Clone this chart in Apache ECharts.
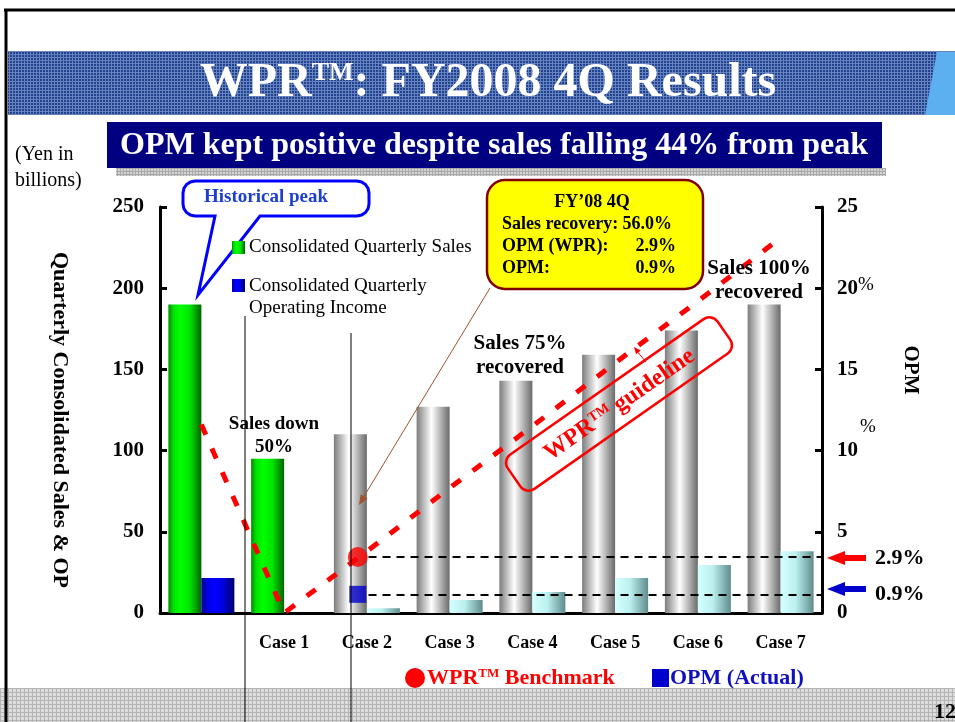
<!DOCTYPE html>
<html>
<head>
<meta charset="utf-8">
<script src="https://cdn.jsdelivr.net/npm/echarts/dist/echarts.min.js"></script>
<style>
  html, body { margin: 0; padding: 0; background: #fff; }
  #chart { width: 955px; height: 722px; }
</style>
</head>
<body>
<div id="chart"></div>
<script>
// data
const categories = ['', 'Case 1', 'Case 2', 'Case 3', 'Case 4', 'Case 5', 'Case 6', 'Case 7']
const salesValues = [190, 95, 110, 127, 143, 159, 174, 190]
const opValues = [21.5, '-', 3, 8, 13, 21.5, 29.5, 38]
const guidelineValues = [11.6, 0, 3.8, 7.7, 11.5, 15.4, 19.2, 23.1]
const benchmarkPoint = [2.39, 3.45]
const actualPoint = [2.39, 1.15]
const leftAxis = { min: 0, max: 250, interval: 50 }
const rightAxis = { min: 0, max: 25, interval: 5 }

const SERIF = '"Liberation Serif", "DejaVu Serif", serif'
const f = (size, bold) => (bold ? 'bold ' : '') + size + 'px ' + SERIF
const ts = (size, bold, color) => ({ fontFamily: SERIF, fontSize: size, fontWeight: bold ? 'bold' : 'normal', color: color || '#000' })

// small tiled texture for the slide bands
function makePattern(bg, line, size) {
  const c = document.createElement('canvas')
  c.width = size
  c.height = size
  const ctx = c.getContext('2d')
  ctx.fillStyle = bg
  ctx.fillRect(0, 0, size, size)
  ctx.fillStyle = line
  ctx.fillRect(0, 0, size, 1)
  ctx.fillRect(0, 0, 1, size)
  return { image: c, repeat: 'repeat' }
}

function hGrad(stops) {
  return {
    type: 'linear', x: 0, y: 0, x2: 1, y2: 0,
    colorStops: stops.map(s => ({ offset: s[0], color: s[1] }))
  }
}
const greenGrad = hGrad([[0, '#008a00'], [0.15, '#00e000'], [0.35, '#00ff00'], [0.65, '#00e400'], [1, '#006400']])
const blueGrad = hGrad([[0, '#000099'], [0.3, '#0000ff'], [0.6, '#0000ee'], [1, '#000070']])
const grayGrad = hGrad([[0, '#7c7c7c'], [0.45, '#ffffff'], [1, '#6a6a6a']])
const tealGrad = hGrad([[0, '#d4ffff'], [0.45, '#bdf0f0'], [1, '#5f8c8c']])

function arcPts(cx, cy, r, a0, a1, n) {
  const pts = []
  for (let i = 0; i <= n; i++) {
    const a = a0 + (a1 - a0) * i / n
    pts.push([cx + r * Math.cos(a), cy + r * Math.sin(a)])
  }
  return pts
}
// rounded box with a speech tail on its bottom edge
function calloutPts(x0, y0, x1, y1, r, tailL, tailR, tip) {
  const P = Math.PI
  return [].concat(
    arcPts(x0 + r, y0 + r, r, P, 1.5 * P, 4),
    arcPts(x1 - r, y0 + r, r, 1.5 * P, 2 * P, 4),
    arcPts(x1 - r, y1 - r, r, 0, 0.5 * P, 4),
    [[tailR, y1], tip, [tailL, y1]],
    arcPts(x0 + r, y1 - r, r, 0.5 * P, P, 4)
  )
}
function arrowHead(x1, y1, x2, y2, len, w) {
  const dx = x2 - x1, dy = y2 - y1
  const d = Math.sqrt(dx * dx + dy * dy)
  const ux = dx / d, uy = dy / d
  const bx = x2 - ux * len, by = y2 - uy * len
  return [[x2, y2], [bx - uy * w, by + ux * w], [bx + uy * w, by - ux * w]]
}
function leftArrow(x, y, color) {
  return {
    type: 'polygon', z: 10,
    shape: { points: [[x, y], [x + 18, y - 7], [x + 18, y - 3], [x + 39, y - 3], [x + 39, y + 3], [x + 18, y + 3], [x + 18, y + 7]] },
    style: { fill: color }
  }
}
const txt = (x, y, text, font, opt) => Object.assign({
  type: 'text', x: x, y: y, z: 10,
  style: Object.assign({ text: text, font: font, fill: '#000', align: 'left', verticalAlign: 'middle' }, opt || {})
})
// "WPR" with a raised TM, for graphic texts
const tmRich = (size, supSize, color, lift) => ({
  a: { font: f(size, true), fill: color },
  s: { font: f(supSize, true), fill: color, verticalAlign: 'top', padding: [0, 0, lift, 0] }
})

const chart = echarts.init(document.getElementById('chart'))

const option = {
  animation: false,
  grid: { left: 160, right: 133, top: 207, bottom: 109 },
  xAxis: [
    {
      type: 'category',
      data: categories,
      axisLine: { lineStyle: { color: '#000', width: 3 } },
      axisTick: { inside: true, length: 5, lineStyle: { color: '#000', width: 3 } },
      axisLabel: Object.assign(ts(18, true), { margin: 21, interval: 0 }),
      splitLine: { show: false }
    },
    { type: 'value', min: 0, max: 8, show: false }
  ],
  yAxis: [
    {
      type: 'value',
      min: leftAxis.min, max: leftAxis.max, interval: leftAxis.interval,
      axisLine: { show: true, lineStyle: { color: '#000', width: 3 } },
      axisTick: { show: true, inside: true, length: 7, lineStyle: { color: '#000', width: 3 } },
      axisLabel: Object.assign(ts(21, true), { margin: 16 }),
      splitLine: { show: false }
    },
    {
      type: 'value',
      position: 'right',
      min: rightAxis.min, max: rightAxis.max, interval: rightAxis.interval,
      axisLine: { show: true, lineStyle: { color: '#000', width: 3 } },
      axisTick: { show: true, inside: true, length: 7, lineStyle: { color: '#000', width: 3 } },
      axisLabel: Object.assign(ts(21, true), {
        margin: 15,
        formatter: function (v) {
          return v === 20 ? '{n|20}{p|%}' : '{n|' + v + '}'
        },
        rich: {
          n: ts(21, true),
          p: Object.assign(ts(19, false), { verticalAlign: 'top', padding: [0, 0, 6, 0] })
        }
      }),
      splitLine: { show: false }
    }
  ],
  series: [
    {
      name: 'Consolidated Quarterly Sales',
      type: 'bar',
      barWidth: 33,
      barGap: '0%',
      data: salesValues.map((v, i) => ({ value: v, itemStyle: { color: i < 2 ? greenGrad : grayGrad } }))
    },
    {
      name: 'Consolidated Quarterly Operating Income',
      type: 'bar',
      barWidth: 33,
      data: opValues.map((v, i) => ({ value: v, itemStyle: { color: i < 1 ? blueGrad : tealGrad } }))
    },
    {
      name: 'WPR guideline',
      type: 'line',
      yAxisIndex: 1,
      z: 4,
      data: guidelineValues,
      symbol: 'none',
      lineStyle: { color: '#ff0000', width: 5, type: [11, 15], cap: 'butt' }
    },
    {
      name: 'WPR Benchmark',
      type: 'scatter',
      xAxisIndex: 1,
      yAxisIndex: 1,
      z: 6,
      symbol: 'circle',
      symbolSize: 20,
      itemStyle: { color: '#ff0000' },
      data: [benchmarkPoint],
      markLine: {
        silent: true,
        symbol: ['none', 'none'],
        label: { show: false },
        lineStyle: { color: '#000', width: 2, type: [8, 6] },
        data: [[{ coord: [benchmarkPoint[0] + 0.13, benchmarkPoint[1]] }, { coord: [8, benchmarkPoint[1]] }]]
      }
    },
    {
      name: 'OPM (Actual)',
      type: 'scatter',
      xAxisIndex: 1,
      yAxisIndex: 1,
      z: 6,
      symbol: 'rect',
      symbolSize: 17,
      itemStyle: { color: '#0000cc' },
      data: [actualPoint],
      markLine: {
        silent: true,
        symbol: ['none', 'none'],
        label: { show: false },
        lineStyle: { color: '#000', width: 2, type: [8, 6] },
        data: [[{ coord: [actualPoint[0] + 0.13, actualPoint[1]] }, { coord: [8, actualPoint[1]] }]]
      }
    }
  ],
  graphic: [
    // slide frame and bands
    { type: 'rect', z: 0, shape: { x: 8, y: 51, width: 947, height: 64 }, style: { fill: makePattern('#21438f', '#6683c0', 3) } },
    { type: 'polygon', z: 1, shape: { points: [[937, 52], [955, 52], [955, 115], [925, 115]] }, style: { fill: '#5cb0f0' } },
    { type: 'rect', z: 0, shape: { x: 0, y: 688, width: 955, height: 34 }, style: { fill: makePattern('#dcdcdc', '#b4b4b4', 4) } },
    { type: 'line', z: 10, shape: { x1: 4, y1: 10, x2: 955, y2: 10 }, style: { stroke: '#000', lineWidth: 3 } },
    { type: 'line', z: 10, shape: { x1: 6, y1: 10, x2: 6, y2: 722 }, style: { stroke: '#000', lineWidth: 3 } },
    txt(488, 84, '{a|WPR}{s|TM}{a|: FY2008 4Q Results}', f(48, true), {
      align: 'center', fill: '#fff', rich: tmRich(48, 26, '#fff', 14)
    }),
    { type: 'rect', z: 0, shape: { x: 116, y: 168, width: 770, height: 8 }, style: { fill: makePattern('#d4d4d4', '#a8a8a8', 3) } },
    { type: 'rect', z: 1, shape: { x: 107, y: 122, width: 775, height: 46 }, style: { fill: '#000080' } },
    txt(494, 146, 'OPM kept positive despite sales falling 44% from peak', f(32, true), { align: 'center', fill: '#fff' }),

    // axis captions
    txt(15, 155, '(Yen in', f(20, false)),
    txt(15, 181, 'billions)', f(20, false)),
    { type: 'text', x: 60, y: 420, z: 10, rotation: -Math.PI / 2,
      style: { text: 'Quarterly Consolidated Sales & OP', font: f(22, true), fill: '#000', align: 'center', verticalAlign: 'middle' } },
    { type: 'text', x: 910, y: 370, z: 10, rotation: -Math.PI / 2,
      style: { text: 'OPM', font: f(21, true), fill: '#000', align: 'center', verticalAlign: 'middle' } },
    txt(868, 427, '%', f(19, false), { align: 'center' }),

    // historical peak callout
    { type: 'polygon', z: 10, shape: { points: calloutPts(183, 181, 369, 216, 12, 215, 260, [198, 295]) },
      style: { fill: '#fff', stroke: '#0000ff', lineWidth: 3 } },
    txt(266, 197, 'Historical peak', f(19, true), { align: 'center', fill: '#1c3fd0' }),

    // in-plot legend
    { type: 'rect', z: 10, shape: { x: 232, y: 241, width: 13, height: 13 }, style: { fill: greenGrad } },
    txt(249, 247, 'Consolidated Quarterly Sales', f(19, false)),
    { type: 'rect', z: 10, shape: { x: 232, y: 279, width: 13, height: 13 }, style: { fill: blueGrad } },
    txt(249, 286, 'Consolidated Quarterly', f(19, false)),
    txt(249, 308, 'Operating Income', f(19, false)),

    // yellow result box
    { type: 'rect', z: 10, shape: { x: 487, y: 180, width: 216, height: 109, r: 18 },
      style: { fill: '#ffff00', stroke: '#800000', lineWidth: 2.5 } },
    txt(592, 202, 'FY\u201908 4Q', f(18, true), { align: 'center' }),
    txt(502, 224, 'Sales recovery: 56.0%', f(18, true)),
    txt(502, 246, 'OPM (WPR):', f(18, true)),
    txt(676, 246, '2.9%', f(18, true), { align: 'right' }),
    txt(502, 268, 'OPM:', f(18, true)),
    txt(676, 268, '0.9%', f(18, true), { align: 'right' }),
    { type: 'line', z: 10, shape: { x1: 490, y1: 288, x2: 360, y2: 503 }, style: { stroke: '#a0522d', lineWidth: 1 } },
    { type: 'polygon', z: 10, shape: { points: arrowHead(490, 288, 359, 505, 10, 4) }, style: { fill: '#a0522d' } },

    // annotations
    txt(274, 424, 'Sales down', f(19, true), { align: 'center' }),
    txt(274, 447, '50%', f(19, true), { align: 'center' }),
    txt(520, 344, 'Sales 75%', f(21, true), { align: 'center' }),
    txt(520, 368, 'recovered', f(21, true), { align: 'center' }),
    txt(759, 269, 'Sales 100%', f(21, true), { align: 'center' }),
    txt(759, 293, 'recovered', f(21, true), { align: 'center' }),

    // guideline tag
    {
      type: 'group', x: 619, y: 404, rotation: 35 * Math.PI / 180, z: 10,
      children: [
        { type: 'rect', z: 10, shape: { x: -128, y: -21, width: 256, height: 42, r: 10 }, style: { fill: 'none', stroke: '#ff0000', lineWidth: 2.5 } },
        { type: 'text', z: 10, x: 0, y: 1, style: {
          text: '{a|WPR}{s|TM}{a| guideline}', align: 'center', verticalAlign: 'middle', fill: '#ff0000',
          rich: tmRich(24, 14, '#ff0000', 8)
        } }
      ]
    },
    { type: 'line', z: 10, shape: { x1: 646, y1: 362, x2: 636, y2: 350 }, style: { stroke: '#ff0000', lineWidth: 1 } },
    { type: 'polygon', z: 10, shape: { points: arrowHead(646, 362, 634, 347, 7, 3) }, style: { fill: '#ff0000' } },

    // right side markers
    leftArrow(827, 558, '#ff0000'),
    leftArrow(827, 589, '#0000cc'),
    txt(875, 558, '2.9%', f(22, true)),
    txt(875, 594, '0.9%', f(22, true)),

    // stray connector lines on the slide
    { type: 'line', z: 10, shape: { x1: 245, y1: 316, x2: 245, y2: 722 }, style: { stroke: '#000', lineWidth: 1 } },
    { type: 'line', z: 10, shape: { x1: 351, y1: 333, x2: 351, y2: 722 }, style: { stroke: '#000', lineWidth: 1 } },

    // bottom legend
    { type: 'circle', z: 10, shape: { cx: 415, cy: 678, r: 10 }, style: { fill: '#ff0000' } },
    txt(427, 678, '{a|WPR}{s|TM}{a| Benchmark}', f(22, true), { fill: '#ff0000', rich: tmRich(22, 13, '#ff0000', 8) }),
    { type: 'rect', z: 10, shape: { x: 652, y: 669, width: 17, height: 18 }, style: { fill: '#0000cc' } },
    txt(670, 678, 'OPM (Actual)', f(22, true), { fill: '#1010c0' }),

    txt(934, 712, '12', f(22, true))
  ]
}

chart.setOption(option)
</script>
</body>
</html>
